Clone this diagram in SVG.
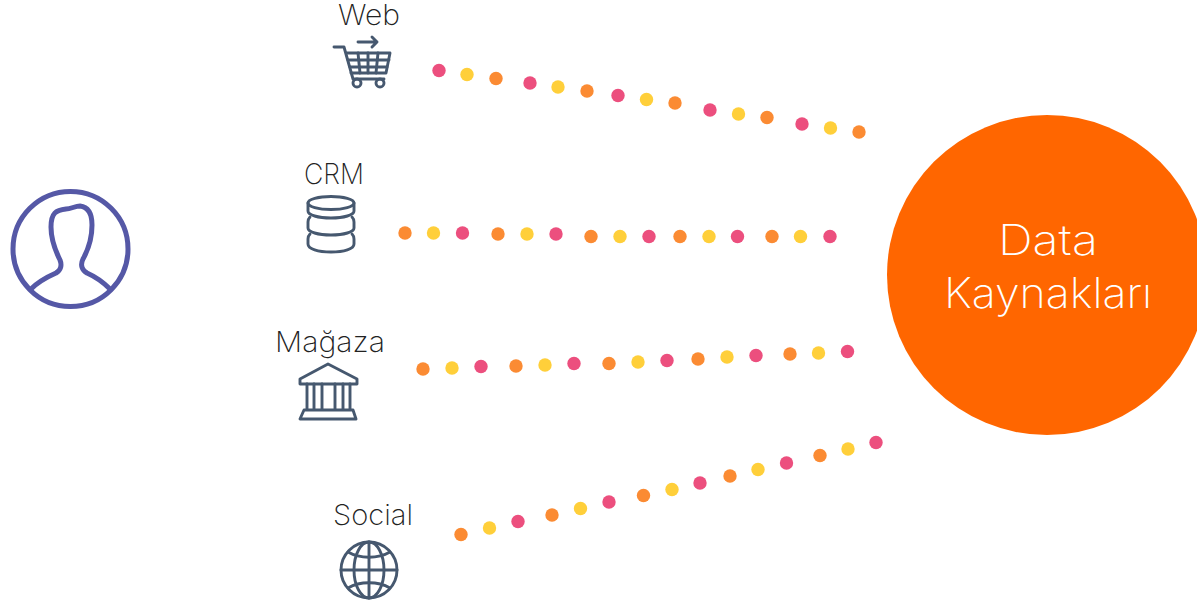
<svg xmlns="http://www.w3.org/2000/svg" width="1197" height="605" viewBox="0 0 1197 605">
<style>
.l{font-family:"Inter","Liberation Sans",sans-serif;font-weight:200;font-size:28.500px;fill:#222;text-anchor:middle}
.t{font-family:"Inter","Liberation Sans",sans-serif;font-weight:200;font-size:42px;fill:#fff;text-anchor:middle}
.i{fill:none;stroke:#46586f;stroke-width:2.900;stroke-linecap:round;stroke-linejoin:round}
.o{fill:#fb8b33}.y{fill:#ffcf3a}.p{fill:#ec4f7e}
</style>
<rect width="1197" height="605" fill="#fff"/>
<g id="connectors">
<g id="web-dots">
<circle class="p" cx="439" cy="70.500" r="6.700"/><circle class="y" cx="467" cy="74.500" r="6.700"/><circle class="o" cx="496" cy="78.500" r="6.700"/><circle class="p" cx="530" cy="83" r="6.700"/><circle class="y" cx="558" cy="87" r="6.700"/><circle class="o" cx="587" cy="91" r="6.700"/><circle class="p" cx="618" cy="95.500" r="6.700"/><circle class="y" cx="646.500" cy="99.500" r="6.700"/><circle class="o" cx="675" cy="103" r="6.700"/><circle class="p" cx="710" cy="110" r="6.700"/><circle class="y" cx="738.500" cy="114" r="6.700"/><circle class="o" cx="767" cy="117.500" r="6.700"/><circle class="p" cx="802" cy="124" r="6.700"/><circle class="y" cx="830.500" cy="128" r="6.700"/><circle class="o" cx="859" cy="132" r="6.700"/>
</g>
<g id="crm-dots">
<circle class="o" cx="405" cy="233" r="6.700"/><circle class="y" cx="433.500" cy="233" r="6.700"/><circle class="p" cx="462.500" cy="233" r="6.700"/><circle class="o" cx="498" cy="234" r="6.700"/><circle class="y" cx="527" cy="234" r="6.700"/><circle class="p" cx="556" cy="234" r="6.700"/><circle class="o" cx="591" cy="236.500" r="6.700"/><circle class="y" cx="620" cy="236.500" r="6.700"/><circle class="p" cx="649" cy="236.500" r="6.700"/><circle class="o" cx="680" cy="236.500" r="6.700"/><circle class="y" cx="709" cy="236.500" r="6.700"/><circle class="p" cx="737.500" cy="236.500" r="6.700"/><circle class="o" cx="772" cy="236.500" r="6.700"/><circle class="y" cx="800.500" cy="236.500" r="6.700"/><circle class="p" cx="830" cy="236.500" r="6.700"/>
</g>
<g id="magaza-dots">
<circle class="o" cx="423" cy="369" r="6.700"/><circle class="y" cx="452" cy="368" r="6.700"/><circle class="p" cx="481" cy="366.500" r="6.700"/><circle class="o" cx="516" cy="366" r="6.700"/><circle class="y" cx="545" cy="365" r="6.700"/><circle class="p" cx="574" cy="363.500" r="6.700"/><circle class="o" cx="609" cy="363.500" r="6.700"/><circle class="y" cx="638" cy="362" r="6.700"/><circle class="p" cx="667" cy="360.500" r="6.700"/><circle class="o" cx="698" cy="359" r="6.700"/><circle class="y" cx="727" cy="357" r="6.700"/><circle class="p" cx="756" cy="355.500" r="6.700"/><circle class="o" cx="790" cy="354" r="6.700"/><circle class="y" cx="818.500" cy="353" r="6.700"/><circle class="p" cx="847.500" cy="351.500" r="6.700"/>
</g>
<g id="social-dots">
<circle class="o" cx="461" cy="534.500" r="6.700"/><circle class="y" cx="489.500" cy="528" r="6.700"/><circle class="p" cx="518" cy="521.500" r="6.700"/><circle class="o" cx="552" cy="515" r="6.700"/><circle class="y" cx="580.500" cy="508.500" r="6.700"/><circle class="p" cx="609" cy="502" r="6.700"/><circle class="o" cx="643.500" cy="495.500" r="6.700"/><circle class="y" cx="672" cy="489.500" r="6.700"/><circle class="p" cx="700" cy="483" r="6.700"/><circle class="o" cx="730" cy="476" r="6.700"/><circle class="y" cx="758" cy="469.500" r="6.700"/><circle class="p" cx="786.500" cy="463" r="6.700"/><circle class="o" cx="820" cy="455.500" r="6.700"/><circle class="y" cx="848" cy="449" r="6.700"/><circle class="p" cx="876" cy="442.500" r="6.700"/>
</g>
</g>
<g id="user" fill="none" stroke="#5558a6" stroke-width="5" stroke-linecap="round" stroke-linejoin="round">
<circle cx="70.500" cy="249" r="57.500"/>
<path d="M31 289C38 282 47 277 56 273C61 270 62 265 60 260C55 250 51 240 51 227C51 213 56 210 66 209C71 209 75 206 80 206C88 207 92 213 92 225C92 240 88 250 83 259C80 265 82 270 87 273C96 277 103 282 110 289"/>
</g>
<g id="web">
<text class="l" x="369" y="25" textLength="62" lengthAdjust="spacingAndGlyphs">Web</text>
<g class="i"><path d="M334 47H344L353 79H384"/><path d="M347 53H390L386 73H351"/><path d="M348 60H389M350 67H387M358 53L360 73M368 53V73M378 53L376 73"/><circle cx="357" cy="83" r="4"/><circle cx="380" cy="83" r="4"/><path d="M358 42H377M372 37L377 42L372 47"/></g>
</g>
<g id="crm">
<text class="l" x="334" y="184" textLength="60" lengthAdjust="spacingAndGlyphs">CRM</text>
<g class="i"><ellipse cx="331" cy="203" rx="23" ry="6.500"/><path d="M308 203V211C308 215 318 218 331 218C344 218 354 215 354 211V203"/><path d="M310 217C308 219 308 220 308 222V228C308 232 318 235 331 235C344 235 354 232 354 228V222C354 220 354 219 352 217"/><path d="M310 234C308 236 308 237 308 239V244C308 249 318 252 331 252C344 252 354 249 354 244V239C354 237 354 236 352 234"/></g>
</g>
<g id="magaza">
<text class="l" x="330" y="352" textLength="110" lengthAdjust="spacingAndGlyphs">Mağaza</text>
<g class="i"><path d="M328 364L300 379V384H357V379Z"/><path d="M307 384V410M314 384V410M322 384V410M335 384V410M343 384V410M350 384V410M304 410H353L356 419H300Z"/></g>
</g>
<g id="social">
<text class="l" x="373" y="525" textLength="80" lengthAdjust="spacingAndGlyphs">Social</text>
<g class="i"><circle cx="369" cy="570" r="28"/><path d="M341 570H397M369 542V598"/><ellipse cx="369" cy="570" rx="15" ry="28"/><path d="M348 552C360 559 378 559 390 552M348 588C360 581 378 581 390 588"/></g>
</g>
<g id="data">
<circle cx="1047" cy="275" r="160" fill="#ff6600"/>
<text class="t" x="1048" y="255" textLength="100" lengthAdjust="spacingAndGlyphs">Data</text>
<text class="t" x="1048" y="308" textLength="208" lengthAdjust="spacingAndGlyphs">Kaynakları</text>
</g>
</svg>
